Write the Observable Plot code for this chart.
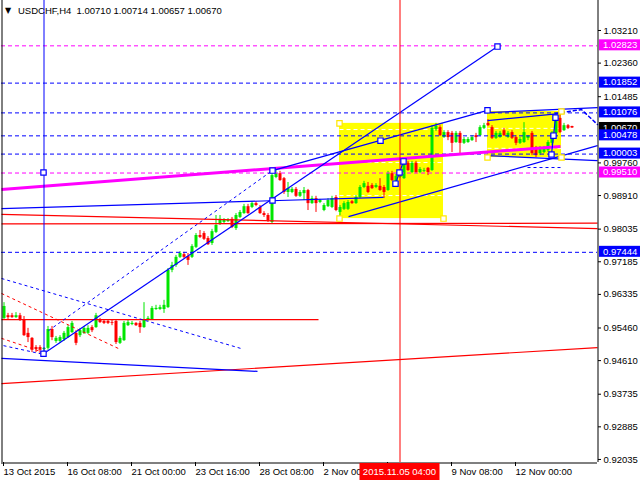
<!DOCTYPE html>
<html><head><meta charset="utf-8">
<script src="https://cdn.jsdelivr.net/npm/d3@7"></script>
<script src="https://cdn.jsdelivr.net/npm/@observablehq/plot@0.6"></script>
<style>body{margin:0;background:#fff}svg{display:block}</style>
</head><body><div id="chart"></div>
<script>
// ---- data ----
const symbolTitle = "USDCHF,H4  1.00710 1.00714 1.00657 1.00670";
const opens = [0.9571,0.9578,0.9578,0.9573,0.9578,0.9566,0.9532,0.9519,0.9495,0.9495,0.9490,0.9493,0.9542,0.9511,0.9511,0.9516,0.9521,0.9534,0.9532,0.9526,
0.9532,0.9532,0.9547,0.9547,0.9566,0.9563,0.9563,0.9560,0.9563,0.9506,0.9513,0.9552,0.9555,0.9558,0.9558,0.9547,0.9566,0.9568,0.9594,0.9594,
0.9594,0.9599,0.9696,0.9709,0.9730,0.9737,0.9732,0.9730,0.9756,0.9787,0.9792,0.9779,0.9766,0.9795,0.9816,0.9821,0.9823,0.9829,0.9805,0.9834,
0.9844,0.9862,0.9860,0.9870,0.9860,0.9844,0.9839,0.9821,0.9938,0.9948,0.9935,0.9899,0.9899,0.9907,0.9889,0.9896,0.9904,0.9870,0.9883,0.9873,
0.9852,0.9862,0.9860,0.9886,0.9847,0.9855,0.9855,0.9875,0.9870,0.9886,0.9912,0.9915,0.9917,0.9912,0.9915,0.9912,0.9904,0.9948,0.9928,0.9938,
0.9935,0.9975,0.9951,0.9975,0.9951,0.9954,0.9962,0.9956,1.0063,1.0068,1.0042,1.0055,1.0053,1.0029,1.0053,1.0027,1.0029,1.0034,1.0047,1.0047,
1.0066,1.0079,1.0068,1.0040,1.0042,1.0060,1.0042,1.0055,1.0042,1.0027,1.0029,1.0040,1.0053,1.0014,1.0000,1.0003,1.0008,1.0027,1.0053,1.0092,
1.0060,1.0073,1.00710];
const highs = [0.9612,0.9584,0.9584,0.9586,0.9584,0.9576,0.9545,0.9521,0.9500,0.9500,0.9495,0.9550,0.9550,0.9524,0.9526,0.9537,0.9552,0.9563,0.9539,0.9545,
0.9550,0.9552,0.9552,0.9584,0.9571,0.9568,0.9568,0.9566,0.9566,0.9524,0.9563,0.9566,0.9563,0.9560,0.9563,0.9612,0.9576,0.9602,0.9605,0.9605,
0.9618,0.9701,0.9717,0.9735,0.9745,0.9743,0.9740,0.9763,0.9792,0.9800,0.9797,0.9784,0.9803,0.9839,0.9839,0.9831,0.9831,0.9834,0.9844,0.9852,
0.9868,0.9868,0.9875,0.9875,0.9865,0.9849,0.9844,0.9951,0.9956,0.9954,0.9938,0.9925,0.9912,0.9912,0.9904,0.9912,0.9907,0.9889,0.9889,0.9881,
0.9870,0.9883,0.9889,0.9891,0.9865,0.9875,0.9878,0.9878,0.9891,0.9917,0.9928,0.9925,0.9922,0.9922,0.9935,0.9917,0.9954,0.9954,0.9946,0.9956,
0.9980,0.9980,0.9980,0.9980,0.9964,0.9962,0.9964,1.0073,1.0079,1.0073,1.0060,1.0060,1.0058,1.0058,1.0058,1.0042,1.0042,1.0047,1.0053,1.0073,
1.0079,1.0089,1.0073,1.0058,1.0058,1.0066,1.0058,1.0060,1.0047,1.0042,1.0081,1.0047,1.0058,1.0019,1.0019,1.0019,1.0034,1.0058,1.0100,1.0105,
1.0079,1.0076,1.00714];
const lows = [0.9568,0.9568,0.9571,0.9571,0.9563,0.9524,0.9508,0.9482,0.9482,0.9479,0.9479,0.9488,0.9513,0.9506,0.9506,0.9511,0.9519,0.9532,0.9500,0.9521,
0.9529,0.9529,0.9534,0.9545,0.9558,0.9555,0.9555,0.9552,0.9503,0.9503,0.9511,0.9550,0.9552,0.9550,0.9532,0.9545,0.9563,0.9566,0.9592,0.9592,
0.9584,0.9597,0.9690,0.9704,0.9727,0.9727,0.9709,0.9727,0.9753,0.9779,0.9774,0.9761,0.9761,0.9792,0.9813,0.9818,0.9821,0.9805,0.9800,0.9831,
0.9842,0.9842,0.9857,0.9862,0.9842,0.9834,0.9821,0.9818,0.9935,0.9928,0.9894,0.9886,0.9896,0.9886,0.9886,0.9878,0.9852,0.9868,0.9847,0.9870,
0.9849,0.9860,0.9857,0.9849,0.9834,0.9852,0.9852,0.9868,0.9868,0.9883,0.9909,0.9896,0.9907,0.9909,0.9902,0.9883,0.9902,0.9928,0.9925,0.9935,
0.9933,0.9954,0.9948,0.9948,0.9948,0.9951,0.9943,0.9954,1.0058,1.0045,1.0040,1.0034,1.0003,1.0027,1.0000,1.0024,1.0027,1.0032,1.0029,1.0045,
1.0063,1.0071,1.0037,1.0037,1.0040,1.0045,1.0040,1.0037,1.0021,1.0024,1.0027,1.0034,0.9995,0.9990,0.9995,1.0000,1.0003,1.0021,1.0050,1.0053,
1.0058,1.0063,1.00657];
const closes = [0.9602,0.9573,0.9573,0.9578,0.9566,0.9526,0.9521,0.9488,0.9490,0.9488,0.9493,0.9542,0.9521,0.9519,0.9521,0.9532,0.9547,0.9558,0.9506,0.9539,
0.9545,0.9545,0.9539,0.9578,0.9560,0.9558,0.9558,0.9558,0.9508,0.9519,0.9558,0.9560,0.9558,0.9552,0.9547,0.9568,0.9571,0.9597,0.9597,0.9599,
0.9605,0.9696,0.9709,0.9730,0.9740,0.9730,0.9722,0.9758,0.9787,0.9782,0.9777,0.9763,0.9797,0.9813,0.9829,0.9826,0.9826,0.9808,0.9839,0.9847,
0.9862,0.9844,0.9870,0.9865,0.9844,0.9839,0.9826,0.9943,0.9948,0.9930,0.9899,0.9909,0.9907,0.9889,0.9899,0.9904,0.9870,0.9883,0.9870,0.9878,
0.9865,0.9878,0.9883,0.9852,0.9860,0.9870,0.9873,0.9870,0.9886,0.9912,0.9922,0.9899,0.9909,0.9917,0.9904,0.9899,0.9948,0.9930,0.9941,0.9951,
0.9975,0.9956,0.9975,0.9951,0.9959,0.9956,0.9951,1.0066,1.0071,1.0047,1.0055,1.0042,1.0027,1.0053,1.0027,1.0037,1.0037,1.0042,1.0042,1.0068,
1.0073,1.0073,1.0040,1.0053,1.0053,1.0047,1.0053,1.0040,1.0027,1.0037,1.0055,1.0045,1.0000,0.9995,1.0014,1.0014,1.0029,1.0053,1.0094,1.0055,
1.0073,1.0066,1.00670];

const yTicks = [1.03210,1.02360,1.01485,0.99760,0.98910,0.98035,0.97185,0.96335,0.95460,0.94610,0.93735,0.92885,0.92035];
const xTickBars = [0,16,32,48,64,80,96,112,128];
const xTickLabels = ["13 Oct 2015","16 Oct 08:00","21 Oct 00:00","23 Oct 16:00","28 Oct 08:00","2 Nov 00:00","","9 Nov 08:00","12 Nov 00:00"];

const magentaLevels = [1.02823, 0.99510];
const blueLevels = [1.01852, 1.01076, 1.00478, 1.00003, 0.97444];
const currentPrice = 1.00670;
const crossBar = 99;
const crossLabel = "2015.11.05 04:00";
const marker1Bar = 10;

// trend objects: [bar1, price1, bar2, price2]
const blueTrends = [[10,0.9479,123.5,1.0279],[-0.5,0.9857,95,0.9886],[67.25,0.9956,121,1.0113],[121,1.0107,148.5,1.0120],
  [121,1.0086,139.5,1.0105],[121,0.9995,148.5,0.9982],[86.25,0.9836,148.5,1.0021],[-0.5,0.9467,63.5,0.9433]];
const blueDotted = [[-0.5,0.9675,59.25,0.9493],[0,0.9500,9.25,0.9479],[11.25,0.9539,68,0.9962],[131,0.9964,139.25,0.9964]];
const redTrends = [[-0.5,0.9568,78.75,0.9568],[-0.5,0.9842,148.5,0.9805],[-0.5,0.9817,148.5,0.9819],[-0.5,0.9401,148.5,0.9495]];
const redDotted = [[-0.5,0.9636,29.25,0.9490],[-0.5,0.9519,9.25,0.9485]];
const magentaTrend = [[-0.5,0.9907,139.25,1.0019]];
const zigzags = [
  {id:"a", pts:[[98,0.9922],[99,0.9951],[100,0.9980]]},
  {id:"b", pts:[[137,0.9998],[137.5,1.0047],[138,1.0094]]},
  {id:"f", pts:[[138,1.0105],[144.5,1.0115],[148.5,1.0076]]}
];
const blueAnchors = [[10,0.9479],[10,0.9951],[123.5,1.0279],[67.25,0.9956],[67.25,0.9878],[94.25,1.0034],[121,1.0113],
  [98,0.9922],[99,0.9951],[100,0.9980],[137,0.9998],[137.5,1.0047],[138,1.0094]];
const yellowRects = [[84,1.0079,110,0.9831],[121,1.0110,139.5,0.9990]];
const yellowAnchors = [[84,1.0079],[84,0.9831],[110,0.9831],[121,0.9990],[139.5,1.0110],[139.5,0.9990]];
const rectLevels = [[84,110,1.0063],[84,110,0.9977],[84,110,0.9891],[121,139.5,1.0066],[121,139.5,1.0014]];

// ---- drawing ----
const xDomain = [-0.5, 148.5];
const yDomain = [0.91956, 1.03991];
const GREEN = "#00e600", RED = "#ff0000", BLUE = "#0000ff", MAG = "#ff00ff";
const FONT = "'Liberation Sans', Arial, sans-serif";
const bars = d3.range(opens.length);
const up = bars.filter(i => closes[i] >= opens[i]);
const dn = bars.filter(i => closes[i] < opens[i]);
const tickLabel = new Map(xTickBars.map((b, k) => [b, xTickLabels[k]]));
const seg = {x1: d => d[0], y1: d => d[1], x2: d => d[2], y2: d => d[3]};
const zz = zigzags.flatMap(z => z.pts.map(p => ({id: z.id, b: p[0], p: p[1]})));

const chart = Plot.plot({
  width: 640, height: 480,
  marginTop: 0, marginRight: 43, marginBottom: 18, marginLeft: 1,
  style: {fontFamily: FONT, fontSize: "9.5px", background: "#fff", color: "#000"},
  x: {type: "linear", domain: xDomain, axis: null, label: null},
  y: {type: "linear", domain: yDomain, axis: null, label: null},
  marks: [
    Plot.rect(yellowRects, {...seg, fill: "#ffff00"}),
    Plot.link(rectLevels, {x1: d => d[0], x2: d => d[1], y1: d => d[2], y2: d => d[2], stroke: "#fff", strokeDasharray: "4,3"}),
    Plot.ruleX(up, {x: d => d, y1: d => lows[d], y2: d => highs[d], stroke: GREEN, dx: 0.5}),
    Plot.ruleX(dn, {x: d => d, y1: d => lows[d], y2: d => highs[d], stroke: RED, dx: 0.5}),
    Plot.ruleX(up, {x: d => d, y1: d => opens[d], y2: d => closes[d], stroke: GREEN, strokeWidth: 3, dx: 0.5, strokeLinecap: "butt"}),
    Plot.ruleX(dn, {x: d => d, y1: d => opens[d], y2: d => closes[d], stroke: RED, strokeWidth: 3, dx: 0.5, strokeLinecap: "butt"}),
    Plot.ruleY(magentaLevels, {stroke: MAG, strokeDasharray: "4,3", dy: 0.5}),
    Plot.ruleY(blueLevels, {stroke: BLUE, strokeDasharray: "4,3", dy: 0.5}),
    Plot.link(redTrends, {...seg, stroke: RED, strokeWidth: 1.2}),
    Plot.link(redDotted, {...seg, stroke: RED, strokeDasharray: "3,3"}),
    Plot.link(magentaTrend, {...seg, stroke: MAG, strokeWidth: 3}),
    Plot.link(blueTrends, {...seg, stroke: BLUE, strokeWidth: 1.2}),
    Plot.link(blueDotted, {...seg, stroke: BLUE, strokeDasharray: "3,3"}),
    Plot.line(zz.filter(d => d.id !== "f"), {x: "b", y: "p", z: "id", stroke: BLUE, strokeWidth: 1.2}),
    Plot.line(zz.filter(d => d.id === "f"), {x: "b", y: "p", z: "id", stroke: BLUE, strokeDasharray: "3,3"}),
    Plot.ruleX([marker1Bar], {y1: 0.9479, y2: yDomain[1], stroke: BLUE, dx: 0.5}),
    Plot.ruleX([crossBar], {stroke: RED, dx: 0.5}),
    Plot.dot(blueAnchors, {x: d => d[0], y: d => d[1], symbol: "square", r: 3, stroke: BLUE, fill: "#fff", strokeWidth: 1.2}),
    Plot.dot(yellowAnchors, {x: d => d[0], y: d => d[1], symbol: "square", r: 3, stroke: "#ffe600", fill: "#fff", strokeWidth: 1.2}),
    Plot.ruleX([xDomain[0]], {stroke: "#000", dx: 0.5}),
    Plot.ruleX([xDomain[1]], {stroke: "#000", dx: 0.5}),
    Plot.ruleY([yDomain[0]], {stroke: "#000", dy: 0.5}),
    Plot.axisY(yTicks, {anchor: "right", label: null, tickSize: 3, tickPadding: 3, tickFormat: d3.format(".5f"), fontSize: 9.5}),
    Plot.axisX(xTickBars, {anchor: "bottom", label: null, tickSize: 4, tickPadding: 2, tickFormat: d => tickLabel.get(d), textAnchor: "start", dx: 0, fontSize: 9.5})
  ]
});
document.getElementById("chart").append(chart);

// price labels on the right axis and the crosshair time label
const svg = d3.select(chart);
const sx = chart.scale("x"), sy = chart.scale("y");
const axisX = sx.apply(xDomain[1]);
const g = svg.append("g").attr("font-family", FONT).attr("font-size", 9.5).attr("text-anchor", "start");
function priceLabel(p, bg) {
  const y = sy.apply(p);
  g.append("rect").attr("x", axisX + 2).attr("y", y - 5.5).attr("width", 640 - axisX - 2).attr("height", 11).attr("fill", bg);
  g.append("text").attr("x", axisX + 6).attr("y", y).attr("dy", "0.35em").attr("text-anchor", "start").attr("fill", "#fff").text(d3.format(".5f")(p));
}
priceLabel(magentaLevels[0], MAG);
priceLabel(blueLevels[0], BLUE);
priceLabel(blueLevels[1], BLUE);
priceLabel(currentPrice, "#000");
priceLabel(blueLevels[2], BLUE);
priceLabel(blueLevels[3], BLUE);
priceLabel(magentaLevels[1], MAG);
priceLabel(blueLevels[4], BLUE);

const cx = sx.apply(crossBar) + 0.5;
const bottom = sy.apply(yDomain[0]);
g.append("rect").attr("x", cx - 40).attr("y", bottom + 1).attr("width", 80).attr("height", 480 - bottom - 1).attr("fill", RED);
g.append("text").attr("x", cx).attr("y", bottom + 10).attr("dy", "0.35em").attr("text-anchor", "middle").attr("fill", "#fff").text(crossLabel);

// chart title
g.append("text").attr("x", 5).attr("y", 13).attr("font-size", 8).attr("text-anchor", "start").attr("font-family", "'DejaVu Sans', sans-serif").text("\u25BC");
g.append("text").attr("x", 18).attr("y", 14).attr("text-anchor", "start").attr("fill", "#000").text(symbolTitle);
</script>
</body></html>
